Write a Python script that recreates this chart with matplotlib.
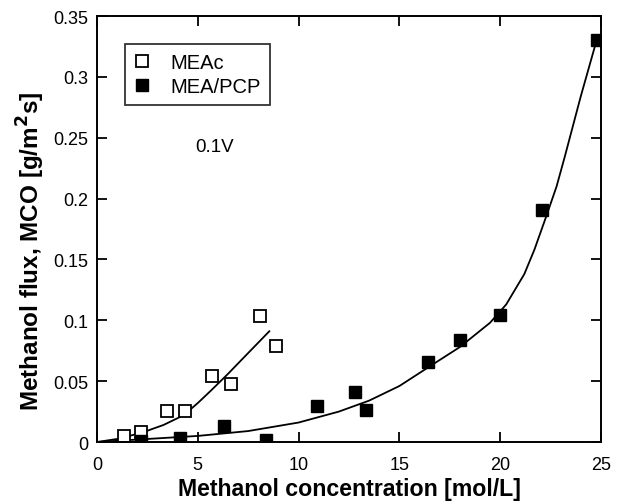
import numpy as np
import matplotlib.pyplot as plt

plt.rcParams['font.family'] = ['Liberation Sans', 'DejaVu Sans']

# measured points
meac_conc = [1.35, 2.2, 3.45, 4.35, 5.7, 6.65, 8.1, 8.9]
meac_flux = [0.005, 0.0085, 0.0255, 0.0255, 0.054, 0.048, 0.1035, 0.079]

pcp_conc = [2.2, 4.1, 6.3, 8.4, 10.9, 12.8, 13.35, 16.4, 18.0, 20.0, 22.1, 24.8]
pcp_flux = [0.001, 0.0033, 0.013, 0.0015, 0.030, 0.041, 0.026, 0.0655, 0.084, 0.104, 0.191, 0.330]

# fitted trend lines
meac_fit_x = [0, 1.0, 2.2, 3.3, 4.3, 5.0, 5.7, 6.5, 7.2, 8.55]
meac_fit_y = [0, 0.0025, 0.0075, 0.014, 0.022, 0.032, 0.043, 0.056, 0.068, 0.091]

pcp_fit_x = [0, 2.5, 5, 7.5, 10, 12, 13.5, 15, 16.4, 18, 19.5, 20.3, 21.2, 21.7,
             22.3, 22.8, 23.2, 24.0, 24.7, 24.8]
pcp_fit_y = [0, 0.0025, 0.005, 0.009, 0.016, 0.025, 0.034, 0.046, 0.061, 0.078,
             0.098, 0.113, 0.138, 0.158, 0.186, 0.210, 0.234, 0.284, 0.325, 0.330]

fig = plt.figure(figsize=(6.24, 5.02), dpi=100)
ax = fig.add_axes([0.1554, 0.1175, 0.8076, 0.8485])

ax.plot(meac_fit_x, meac_fit_y, color='black', lw=1.3)
ax.plot(pcp_fit_x, pcp_fit_y, color='black', lw=1.3)

ax.plot(meac_conc, meac_flux, 's', ms=8, mfc='white', mec='black', mew=1.3,
        ls='none', label='MEAc')
ax.plot(pcp_conc, pcp_flux, 's', ms=8, mfc='black', mec='black',
        ls='none', label='MEA/PCP')

ax.set_xlim(0, 25)
ax.set_ylim(0, 0.35)
ax.set_xticks([0, 5, 10, 15, 20, 25])
ax.set_yticks(np.arange(0, 0.351, 0.05))
ax.set_yticklabels(['0', '0.05', '0.1', '0.15', '0.2', '0.25', '0.3', '0.35'])
ax.tick_params(direction='in', length=7, width=1.3, top=True, right=True,
               labelsize=13, pad=6)
ax.tick_params(axis='x', pad=10)
for s in ax.spines.values():
    s.set_linewidth(1.4)

ax.set_xlabel('Methanol concentration [mol/L]', fontsize=16.7, fontweight='bold',
              labelpad=3)
ax.set_ylabel('Methanol flux, MCO [g/m$^\\mathbf{2}$s]', fontsize=17.5,
              fontweight='bold')
ax.yaxis.set_label_coords(-0.1, 0.451)

ax.text(4.9, 0.243, '0.1V', fontsize=13.5, va='center')

leg = ax.legend(loc='upper left', bbox_to_anchor=(0.056, 0.934), fontsize=14.5,
                frameon=True, fancybox=False, handlelength=0.8,
                handletextpad=1.0, borderpad=0.45, labelspacing=0.25,
                borderaxespad=0)
leg.get_frame().set_edgecolor('black')
leg.get_frame().set_linewidth(1.3)

fig.savefig('out.png', dpi=100)
